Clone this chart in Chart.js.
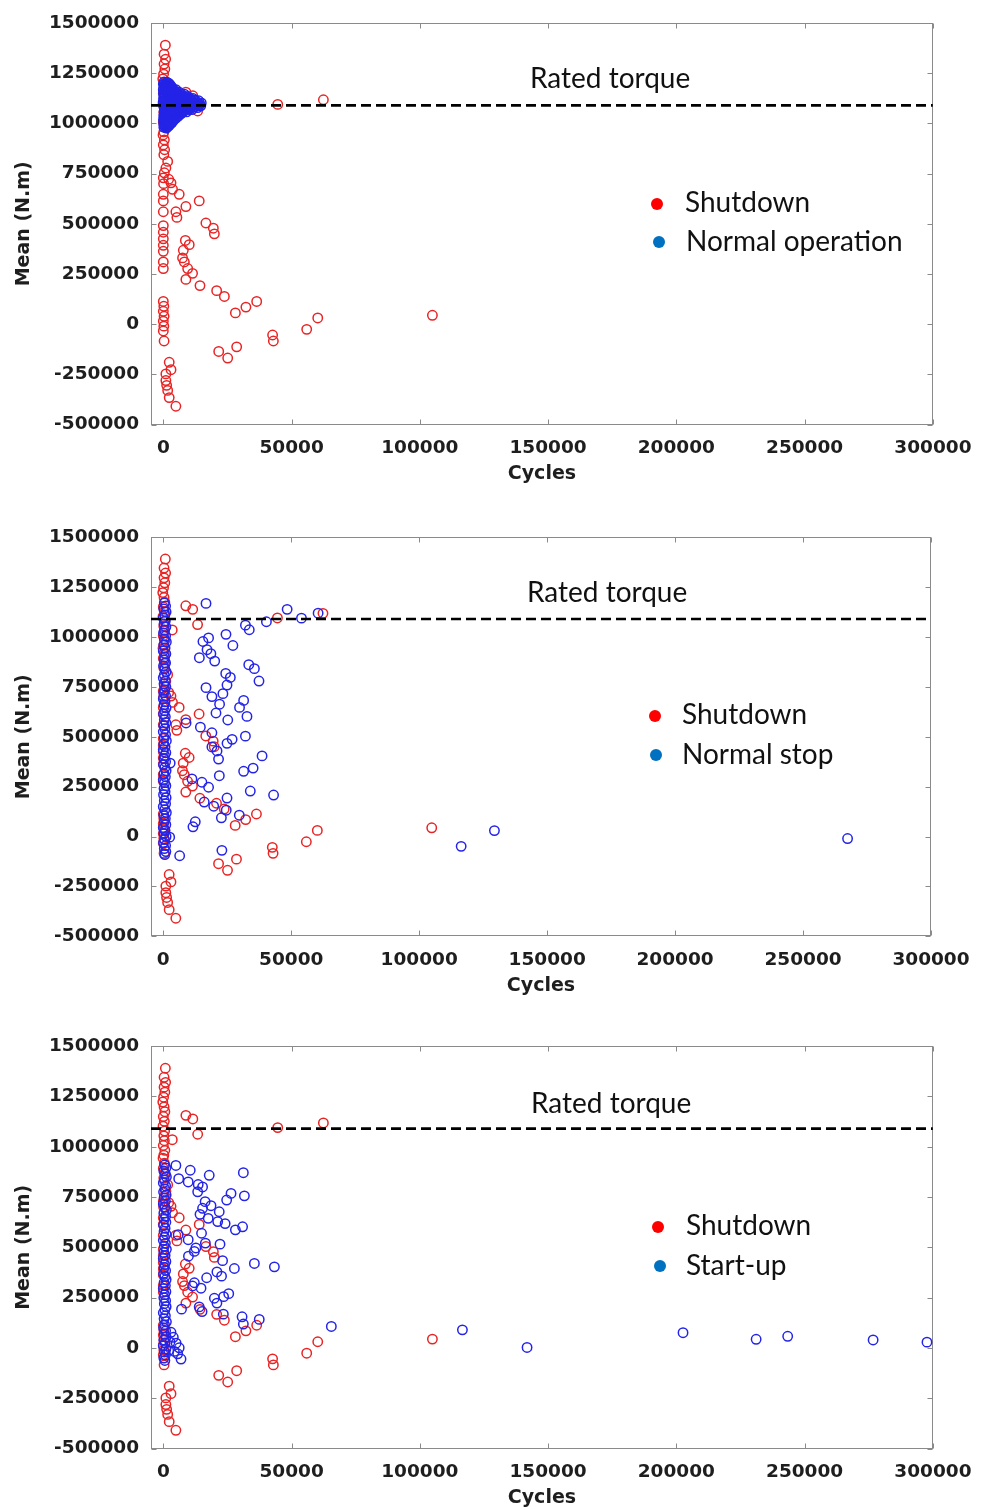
<!DOCTYPE html>
<html>
<head>
<meta charset="utf-8">
<script src="https://cdn.jsdelivr.net/npm/chart.js@4.4.1/dist/chart.umd.min.js"></script>
<style>
  html, body { margin: 0; padding: 0; background: #fff; }
  body { width: 984px; height: 1510px; position: relative; overflow: hidden; }
  .panel { position: absolute; left: 0; width: 984px; }
  .panel canvas { display: block; }
</style>
</head>
<body>
<div class="panel" style="top:0px;height:500px"><canvas id="c1" width="984" height="500"></canvas></div>
<div class="panel" style="top:514px;height:500px"><canvas id="c2" width="984" height="500"></canvas></div>
<div class="panel" style="top:1023px;height:487px"><canvas id="c3" width="984" height="487"></canvas></div>
<script>
// Axis ticks (cycles on x, mean torque in N.m on y)
const xTicks = [0, 50000, 100000, 150000, 200000, 250000, 300000];
const yTicks = [-500000, -250000, 0, 250000, 500000, 750000, 1000000, 1250000, 1500000];
const ratedTorque = 1090000;

// Series labels
const shutdownName = 'Shutdown';
const blueNames = ['Normal operation', 'Normal stop', 'Start-up'];
const ratedLabel = 'Rated torque';

// Shutdown events: [cycles, mean torque]
const shutdown = [
  [800,1390000],[300,1345000],[900,1320000],[300,1296000],[600,1271000],[100,1246000],[-200,1222000],
  [300,1198000],[600,1174000],[0,1150000],[400,1126000],[-100,1102000],[500,1078000],[200,1054000],
  [400,1030000],[0,1006000],[600,982000],[200,958000],[-100,943000],[400,918000],[0,893000],
  [500,869000],[200,844000],
  [1700,811000],[1000,778000],[400,754000],[0,729000],[2100,722000],[3000,704000],[100,700000],
  [3600,672000],[6200,647000],[0,647000],[0,614000],[14000,614000],[8800,586000],[4900,560000],
  [0,560000],[5300,532000],[16600,504000],[19500,478000],[19900,450000],
  [0,491000],[0,458000],[0,425000],[0,393000],[0,363000],[0,310000],[0,277000],
  [8600,417000],[10100,396000],[7800,368000],[7500,330000],[8200,310000],[9500,277000],
  [11400,253000],[8800,223000],[14300,192000],[20800,167000],[23800,138000],[36400,113000],
  [32200,85000],[28100,56000],
  [0,113000],[200,89000],[0,64000],[300,39000],[0,15000],[200,-10000],[0,-34000],[300,-84000],
  [42600,-54000],[42900,-84000],[55900,-26000],[60200,31000],[104900,44000],
  [21600,-136000],[25100,-169000],[28600,-113000],
  [2300,-190000],[3000,-227000],[1000,-248000],[1000,-281000],[1300,-305000],[1700,-330000],
  [2300,-366000],[4900,-409000],
  [8800,1156000],[13400,1062000],[11500,1138000],[3500,1035000],[44600,1095000],[62400,1118000]
];

// Normal operation: [cycles, mean torque]
const normalOperation = [
  [300,1207000],[1500,1205000],[900,1201000],[2000,1201000],
  [0,1196000],[1100,1194000],[2300,1197000],[400,1190000],[1600,1190000],[2800,1190000],
  [500,1185000],[1700,1183000],[2900,1186000],[1000,1179000],[2200,1179000],[3400,1179000],
  [100,1174000],[1300,1172000],[2500,1175000],[3700,1171000],
  [0,1168000],[1300,1168000],[2600,1168000],[3900,1168000],[5000,1168000],
  [600,1163000],[1900,1161000],[3200,1164000],[4500,1160000],
  [900,1157000],[2100,1157000],[3500,1157000],[4800,1157000],[6000,1157000],
  [200,1152000],[1400,1150000],[2700,1153000],[4000,1149000],[5300,1151000],
  [100,1146000],[1500,1146000],[2900,1146000],[4200,1146000],[5600,1146000],[7000,1146000],[8200,1146000],
  [700,1141000],[2000,1139000],[3300,1142000],[4700,1138000],[6200,1140000],[7600,1137000],
  [900,1135000],[2300,1135000],[3700,1135000],[5100,1135000],[6600,1135000],[8100,1135000],[9500,1135000],
  [300,1130000],[1600,1128000],[2900,1131000],[4300,1127000],[5800,1129000],[7300,1126000],[8800,1130000],[10200,1125000],
  [100,1124000],[1500,1124000],[3000,1124000],[4500,1124000],[6000,1124000],[7500,1124000],[8900,1124000],[10400,1124000],[11600,1124000],
  [800,1119000],[2200,1117000],[3600,1120000],[5100,1116000],[6600,1118000],[8100,1115000],[9500,1119000],[11000,1114000],[12200,1116000],
  [700,1113000],[2200,1113000],[3700,1113000],[5200,1113000],[6700,1113000],[8200,1113000],[9700,1113000],[11200,1113000],[12600,1113000],[13800,1113000],
  [0,1108000],[1400,1106000],[2900,1109000],[4400,1105000],[5900,1107000],[7400,1104000],[8900,1108000],[10400,1103000],[11800,1106000],[13100,1102000],[14200,1099000],
  [100,1102000],[1500,1102000],[3000,1102000],[4500,1102000],[6000,1102000],[7500,1102000],[9000,1102000],[10500,1102000],[12000,1102000],[13400,1102000],[14800,1102000],
  [600,1097000],[2100,1095000],[3600,1098000],[5100,1094000],[6600,1096000],[8100,1093000],[9600,1097000],[11100,1092000],[12500,1095000],[13800,1091000],[14600,1088000],
  [1000,1091000],[2500,1091000],[4000,1091000],[5500,1091000],[7000,1091000],[8500,1091000],[10000,1091000],[11500,1091000],[12900,1091000],[14200,1091000],
  [200,1086000],[1700,1084000],[3200,1087000],[4700,1083000],[6200,1085000],[7700,1082000],[9200,1086000],[10700,1081000],[12100,1084000],[13400,1079000],
  [300,1080000],[1700,1080000],[3200,1080000],[4700,1080000],[6200,1080000],[7700,1080000],[9200,1080000],[10600,1080000],[12000,1080000],
  [900,1075000],[2400,1073000],[3900,1076000],[5400,1072000],[6900,1074000],[8400,1071000],[9800,1075000],[11200,1069000],
  [1100,1069000],[2600,1069000],[4100,1069000],[5600,1069000],[7100,1069000],[8600,1069000],[10000,1069000],
  [400,1064000],[1800,1062000],[3300,1065000],[4800,1061000],[6300,1063000],[7800,1060000],[9100,1058000],
  [300,1058000],[1700,1058000],[3200,1058000],[4700,1058000],[6200,1058000],[7600,1058000],
  [1000,1053000],[2500,1051000],[4000,1054000],[5500,1050000],[7000,1049000],
  [1000,1047000],[2400,1047000],[3800,1047000],[5200,1047000],[6500,1047000],
  [300,1042000],[1700,1040000],[3100,1043000],[4500,1039000],[5900,1037000],
  [200,1036000],[1500,1036000],[2900,1036000],[4300,1036000],[5400,1036000],
  [800,1031000],[2200,1029000],[3600,1032000],[4900,1027000],
  [1000,1025000],[2400,1025000],[3700,1025000],[4700,1025000],
  [100,1020000],[1500,1018000],[2900,1021000],[4100,1016000],
  [200,1014000],[1400,1014000],[2600,1014000],[3800,1014000],
  [600,1009000],[2000,1007000],[3300,1010000],
  [1000,1003000],[2300,1003000],[3300,1003000],
  [200,998000],[1500,996000],[2700,999000],
  [300,992000],[1300,992000],[2400,992000],
  [700,987000],[1900,985000],
  [200,981000],[1400,981000],
  [1200,977000]
];

// Normal stop: [cycles, mean torque]
const normalStop = [
  [400,1170000],[900,1155000],[200,1140000],[1100,1125000],[600,1110000],[0,1095000],[800,1080000],
  [300,1065000],[1000,1050000],[500,1035000],[100,1020000],[900,1005000],[400,990000],[1200,975000],
  [200,960000],[700,945000],[0,930000],[1000,915000],[500,900000],[300,885000],[900,870000],
  [100,855000],[600,840000],[1100,825000],[400,810000],[0,795000],[800,780000],[300,765000],
  [1000,750000],[500,735000],[200,720000],[900,705000],[0,690000],[700,675000],[300,660000],
  [1100,645000],[500,630000],[100,615000],[800,600000],[400,585000],[1000,570000],[200,555000],
  [600,540000],[0,525000],[900,510000],[400,495000],[1200,480000],[200,465000],[700,450000],
  [0,435000],[1000,420000],[500,405000],[300,390000],[900,375000],[100,360000],[600,345000],
  [1100,330000],[300,315000],[800,300000],[0,285000],[500,270000],[1000,255000],[300,240000],
  [700,225000],[100,210000],[1100,195000],[400,180000],[900,165000],[0,150000],[600,135000],
  [1200,120000],[200,105000],[800,90000],[400,75000],[1000,60000],[0,45000],[700,30000],
  [300,15000],[1100,0],[500,-15000],[100,-30000],[900,-45000],[400,-60000],[1000,-75000],[600,-90000],
  [2700,368000],[2500,-3000],
  [16700,1168000],[48400,1138000],[54000,1094000],[60500,1119000],[40300,1076000],[32100,1059000],
  [33600,1036000],[24500,1013000],[17700,995000],[15500,977000],[27200,957000],[17100,936000],
  [18600,916000],[14100,896000],[20100,879000],[33400,861000],[35600,841000],[24400,817000],
  [26200,797000],[37400,779000],[24900,759000],[16700,746000],[23300,716000],[19000,701000],
  [31400,682000],[22000,663000],[29800,647000],[20600,619000],[32700,602000],[25200,584000],
  [8900,569000],[14500,548000],[19000,520000],[32100,503000],[26900,487000],[24900,467000],
  [19000,449000],[21000,429000],[38600,404000],[21600,388000],[35100,343000],[31400,327000],
  [21900,305000],[11200,289000],[15100,272000],[17700,247000],[34000,228000],[43100,208000],
  [24900,193000],[16000,173000],[19700,152000],[24600,132000],[22700,94000],[29700,107000],
  [12500,74000],[11600,49000],[22900,-69000],[6400,-96000],
  [116400,-49000],[129400,30000],[267400,-10000]
];

// Start-up: [cycles, mean torque]
const startUp = [
  [500,910000],[1000,895000],[200,880000],[800,865000],[1200,850000],[400,835000],[0,820000],
  [900,805000],[600,790000],[100,775000],[1100,760000],[300,745000],[800,730000],[0,715000],
  [600,700000],[1200,685000],[200,670000],[900,655000],[400,640000],[1000,625000],[100,610000],
  [700,595000],[300,580000],[1100,565000],[500,550000],[0,535000],[800,520000],[400,505000],
  [1200,490000],[200,475000],[700,460000],[0,445000],[1000,430000],[500,415000],[300,400000],
  [900,385000],[100,370000],[600,355000],[1100,340000],[300,325000],[800,310000],[0,295000],
  [1000,280000],[500,265000],[200,250000],[900,235000],[400,220000],[1100,205000],[600,190000],
  [0,175000],[800,160000],[300,145000],[1200,130000],[500,115000],[100,100000],[900,85000],
  [400,70000],[1100,55000],[200,40000],[700,25000],[0,10000],[1000,-5000],[400,-20000],
  [800,-35000],[200,-50000],[600,-62000],
  [3000,78000],[3900,53000],[5000,24000],[6200,1000],[4300,-17000],[5600,-29000],[6900,-55000],
  [2600,29000],[2100,-12000],
  [4900,907000],[10500,883000],[17900,858000],[31200,871000],[6000,841000],[9700,825000],
  [13600,812000],[15300,800000],[13400,776000],[26400,768000],[31600,756000],[24700,735000],
  [16300,727000],[18600,707000],[15300,694000],[21800,677000],[14300,664000],[17500,644000],
  [21200,628000],[24100,618000],[28100,587000],[30900,602000],[14900,570000],[5800,563000],
  [9700,538000],[22100,516000],[16400,521000],[12700,497000],[12100,480000],[9800,456000],
  [23100,434000],[35500,420000],[43300,403000],[27700,395000],[20900,378000],[22700,357000],
  [16900,349000],[12100,324000],[11400,308000],[14700,297000],[25500,270000],[23500,255000],
  [19900,247000],[20900,223000],[7100,193000],[14000,204000],[15100,181000],[23400,168000],
  [30700,155000],[37400,142000],[31200,119000],[65500,107000],
  [116600,90000],[141800,2500],[202600,76000],[231100,43000],[243400,58000],[276700,40000],[297700,29000]
];

const RED = 'rgb(232,36,36)';
const BLUE = 'rgb(36,36,232)';
const TICK_FONT = { family: 'DejaVu Sans', size: 18.5, weight: 'bold', lineHeight: 1.2 };
const TITLE_FONT = { family: 'DejaVu Sans', size: 19, weight: 'bold', lineHeight: 1.2 };

// Axes box with inward tick marks on all four sides
const framePlugin = {
  id: 'frame',
  beforeDatasetsDraw(chart) {
    const { ctx, chartArea: a, scales: { x, y } } = chart;
    ctx.save();
    ctx.strokeStyle = '#8a8a8a';
    ctx.lineWidth = 1;
    const l = Math.round(a.left) + 0.5, r = Math.round(a.right) - 0.5;
    const t = Math.round(a.top) + 0.5, b = Math.round(a.bottom) - 0.5;
    ctx.strokeRect(l, t, r - l, b - t);
    const L = 5;
    ctx.beginPath();
    xTicks.forEach(v => {
      const px = Math.round(x.getPixelForValue(v)) + 0.5;
      ctx.moveTo(px, b); ctx.lineTo(px, b - L);
      ctx.moveTo(px, t); ctx.lineTo(px, t + L);
    });
    yTicks.forEach(v => {
      const py = Math.round(y.getPixelForValue(v)) + 0.5;
      ctx.moveTo(l, py); ctx.lineTo(l + L, py);
      ctx.moveTo(r, py); ctx.lineTo(r - L, py);
    });
    ctx.stroke();
    ctx.restore();
  }
};

// "Rated torque" label and the legend inside the plot
const notesPlugin = {
  id: 'notes',
  afterDraw(chart, args, opts) {
    const ctx = chart.ctx;
    ctx.save();
    ctx.font = '28px Lato';
    ctx.textBaseline = 'alphabetic';
    ctx.fillStyle = '#111';
    ctx.fillText(opts.rated.text, opts.rated.x, opts.rated.y);
    opts.entries.forEach(e => {
      ctx.beginPath();
      ctx.arc(e.dx, e.dy, 6, 0, Math.PI * 2);
      ctx.fillStyle = e.color;
      ctx.fill();
      ctx.fillStyle = '#111';
      ctx.fillText(e.text, e.tx, e.ty);
    });
    ctx.restore();
  }
};

const panels = [
  { canvas: 'c1', height: 500, plotBottom: 424.5, titleMid: 472, padRight: 50, blue: normalOperation, blueName: blueNames[0],
    rated: { x: 530, y: 88 },
    legend: [{ dx: 657, dy: 204, tx: 685, ty: 212 }, { dx: 659, dy: 242, tx: 686, ty: 251 }] },
  { canvas: 'c2', height: 500, plotBottom: 422.4, titleMid: 470, padRight: 53, blue: normalStop, blueName: blueNames[1],
    rated: { x: 527, y: 88 },
    legend: [{ dx: 655, dy: 202, tx: 682, ty: 210 }, { dx: 656, dy: 241, tx: 682, ty: 250 }] },
  { canvas: 'c3', height: 487, plotBottom: 425.6, titleMid: 473, padRight: 50, blue: startUp, blueName: blueNames[2],
    rated: { x: 531, y: 90 },
    legend: [{ dx: 658, dy: 204, tx: 686, ty: 212 }, { dx: 660, dy: 243, tx: 686, ty: 252 }] }
];

const toPoints = arr => arr.map(([x, y]) => ({ x, y }));

panels.forEach(p => {
  const xAxisHeight = p.titleMid - p.plotBottom + 14;
  new Chart(document.getElementById(p.canvas), {
    type: 'scatter',
    data: {
      datasets: [
        {
          label: ratedLabel,
          data: [{ x: -4800, y: ratedTorque }, { x: 300000, y: ratedTorque }],
          showLine: true, borderColor: '#000', borderWidth: 2.6, borderDash: [10, 5],
          pointRadius: 0, order: 0
        },
        {
          label: p.blueName, data: toPoints(p.blue),
          pointStyle: 'circle', pointRadius: 4.7, pointBorderWidth: 1.5,
          borderColor: BLUE, backgroundColor: 'rgba(0,0,0,0)', order: 1
        },
        {
          label: shutdownName, data: toPoints(shutdown),
          pointStyle: 'circle', pointRadius: 4.7, pointBorderWidth: 1.5,
          borderColor: RED, backgroundColor: 'rgba(0,0,0,0)', order: 2
        }
      ]
    },
    options: {
      responsive: false,
      animation: false,
      events: [],
      layout: { padding: { top: 18, right: p.padRight, left: 0, bottom: p.height - p.titleMid - 14 } },
      plugins: {
        legend: { display: false },
        tooltip: { enabled: false },
        notes: {
          rated: { text: ratedLabel, x: p.rated.x, y: p.rated.y },
          entries: [
            { text: shutdownName, color: '#ff0000', ...p.legend[0] },
            { text: p.blueName, color: '#0070c0', ...p.legend[1] }
          ]
        }
      },
      scales: {
        x: {
          type: 'linear', min: -4800, max: 300000,
          afterBuildTicks: s => { s.ticks = xTicks.map(v => ({ value: v })); },
          afterFit: s => { s.height = xAxisHeight; },
          grid: { display: false, drawTicks: false },
          border: { display: false },
          ticks: { font: TICK_FONT, color: '#1e1e1e', padding: 12.5, maxRotation: 0, autoSkip: false, callback: v => String(v) },
          title: { display: true, text: 'Cycles', color: '#1e1e1e', font: TITLE_FONT, padding: { top: 0, bottom: 0.6 } }
        },
        y: {
          type: 'linear', min: -500000, max: 1500000,
          afterBuildTicks: s => { s.ticks = yTicks.map(v => ({ value: v })); },
          afterFit: s => { s.width = 151; },
          grid: { display: false, drawTicks: false },
          border: { display: false },
          ticks: { font: TICK_FONT, color: '#1e1e1e', padding: 12, autoSkip: false, callback: v => String(v) },
          title: { display: true, text: 'Mean (N.m)', color: '#1e1e1e', font: TITLE_FONT, padding: { top: 13, bottom: 0 } }
        }
      }
    },
    plugins: [framePlugin, notesPlugin]
  });
});
</script>
</body>
</html>
